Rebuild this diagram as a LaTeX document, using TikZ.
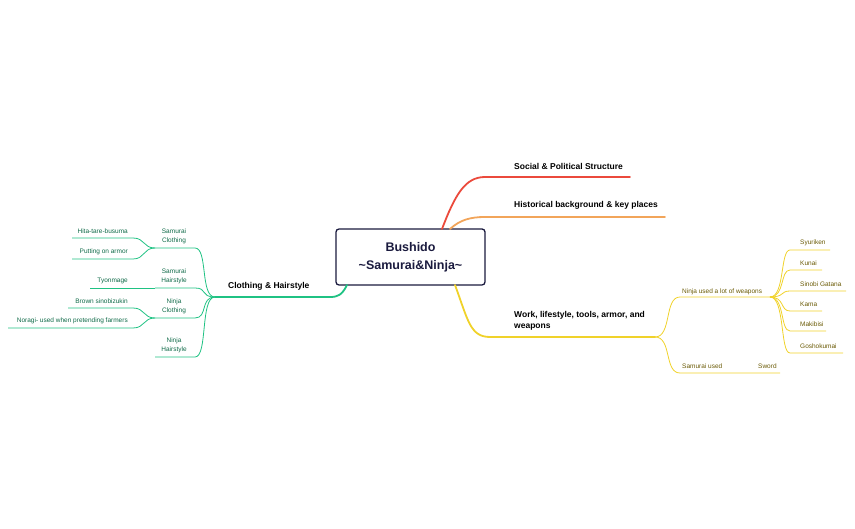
\documentclass[tikz,border=0pt]{standalone}
\usepackage{fontspec}
\setmainfont{Liberation Sans}
\usepackage{tikz}
\usetikzlibrary{positioning}

\definecolor{redbr}{HTML}{EB4A3C}
\definecolor{orangebr}{HTML}{F2A55A}
\definecolor{yellowbr}{HTML}{F0D22A}
\definecolor{greenbr}{HTML}{1FC283}
\definecolor{greentxt}{HTML}{0F6A48}
\definecolor{yellowtxt}{HTML}{6A5A05}
\definecolor{navy}{HTML}{1A1A3E}

\begin{document}
\begin{tikzpicture}[x=1pt,y=-1pt,
        every node/.style={inner sep=0pt},
        main/.style={font=\fontsize{8.5}{11}\selectfont\bfseries, anchor=south west, align=left},
        sub/.style={font=\fontsize{6.5}{9}\selectfont, anchor=south west, align=left},
        lsub/.style={font=\fontsize{6.5}{9}\selectfont, anchor=south, align=center},
        ]
        \tikzstyle{br} = [line width=1.8pt, line cap=round];
        \tikzstyle{tw} = [line width=0.8pt];
        \useasboundingbox (0,0) rectangle (855,529);

        % central topic
        \node[draw=navy, line width=1.3pt, rounded corners=3pt, minimum width=149pt, minimum height=56pt,
              align=center, text=navy, font=\fontsize{12.5}{18}\selectfont\bfseries] (root) at (410.5,257)
              {Bushido\\\textasciitilde Samurai\&Ninja\textasciitilde};

        % right side
        \coordinate (r0) at (442,229);
        \coordinate (r1) at (485,177);
        \coordinate (r2) at (630,177);
        \draw[br, redbr] (r0) .. controls (455,195) and (465,177) .. (r1) -- (r2);
        \node[main] (social) at (514,170) {Social \& Political Structure};

        \coordinate (o0) at (450,229);
        \coordinate (o1) at (485,217);
        \coordinate (o2) at (665,217);
        \draw[br, orangebr] (o0) .. controls (460,220) and (470,217) .. (o1) -- (o2);
        \node[main] (hist) at (514,210) {Historical background \& key places};

        \coordinate (y0) at (455,285);
        \coordinate (y1) at (490,337);
        \coordinate (y2) at (655,337);
        \draw[br, yellowbr] (y0) .. controls (468,320) and (470,337) .. (y1) -- (y2);
        \node[main] (work) at (514,330) {Work, lifestyle, tools, armor, and\\weapons};

        \coordinate (n1) at (680,297);
        \coordinate (n2) at (770,297);
        \draw[tw, yellowbr] (y2) .. controls (672,337) and (664,297) .. (n1) -- (n2);
        \node[sub, text=yellowtxt] (ninjaw) at (682,295) {Ninja used a lot of weapons};
        \coordinate (s1) at (680,373);
        \coordinate (s2) at (780,373);
        \draw[tw, yellowbr] (y2) .. controls (672,337) and (664,373) .. (s1) -- (s2);
        \node[sub, text=yellowtxt] (samw) at (682,369) {Samurai used};
        \node[sub, text=yellowtxt] (sword) at (758,369) {Sword};

        \foreach \name/\yy/\xe in {Syuriken/250/830, Kunai/270/822, Sinobi Gatana/291/846,
                                   Kama/311/822, Makibisi/331/826, Goshokumai/353/843}{
            \draw[tw, yellowbr] (n2) .. controls (785,297) and (780,\yy) .. (790,\yy) coordinate (w\yy) -- (\xe,\yy);
            \node[sub, text=yellowtxt] at (800,\yy-4) {\name};
        }

        % left side
        \coordinate (g0) at (347,285);
        \coordinate (g1) at (330,297);
        \coordinate (g2) at (215,297);
        \draw[br, greenbr] (g0) .. controls (342,295) and (338,297) .. (g1) -- (g2);
        \node[main] (cloth) at (228,291) {Clothing \& Hairstyle};

        \foreach \yy/\lab in {248/{Samurai\\Clothing}, 288/{Samurai\\Hairstyle}, 318/{Ninja\\Clothing}, 357/{Ninja\\Hairstyle}}{
            \draw[tw, greenbr] (g2) .. controls (200,297) and (208,\yy) .. (195,\yy) -- (155,\yy);
            \node[lsub, text=greentxt] at (174,\yy-4) {\lab};
        }

        \foreach \name/\yy/\xs/\py in {Hita-tare-busuma/238/72/248, Putting on armor/259/72/248,
                                         Brown sinobizukin/308/68/318, Noragi- used when pretending farmers/328/8/318}{
            \draw[tw, greenbr] (155,\py) .. controls (143,\py) and (145,\yy) .. (133,\yy) -- (\xs,\yy);
            \node[sub, text=greentxt, anchor=south east] at (128,\yy-4) {\name};
        }
        \draw[tw, greenbr] (155,288) -- (90,288);
        \node[sub, text=greentxt, anchor=south east] (tyon) at (128,284) {Tyonmage};
\end{tikzpicture}
\end{document}
